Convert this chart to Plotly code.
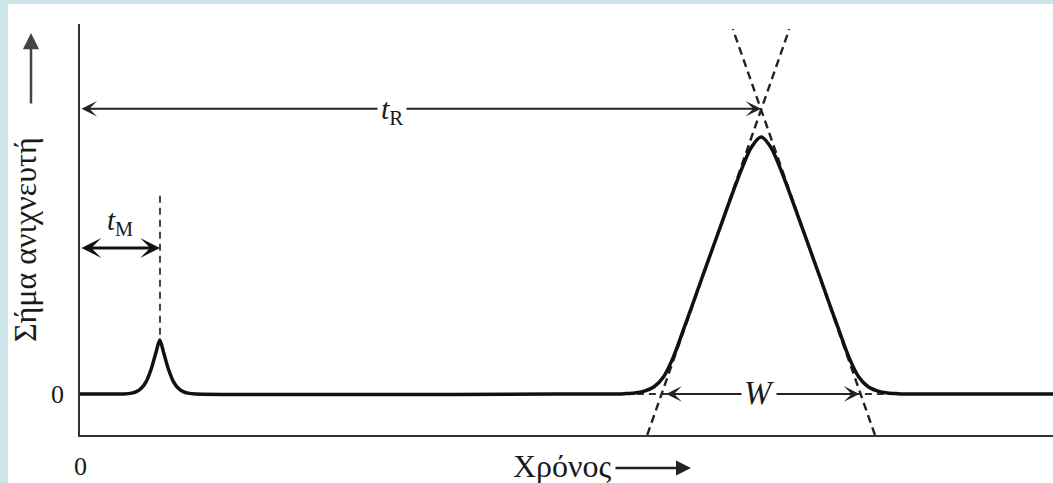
"""Chromatogram sketch: retention time t_R, dead time t_M and peak width W."""

import plotly.graph_objects as go

# detector signal (time in arbitrary units, peak height ~100)
time = [0, 4.5, 5.3, 5.8, 6.3, 6.8, 7.3, 7.8, 8.2, 8.6, 9.1, 9.6, 10.1, 10.6, 11.1, 11.9,
        54, 55, 56, 57, 58, 59, 60, 61, 62, 63, 64, 65, 66, 67, 68, 69, 70,
        71, 72, 73, 74, 75, 76, 77, 78, 79, 80, 81, 82, 83, 84, 85, 86, 100]
signal = [0, 0, 0.3, 0.9, 2.2, 4.8, 9.5, 16, 21, 16, 9.5, 4.8, 2.2, 0.9, 0.3, 0,
          0, 0, 0.1, 0.35, 1.1, 2.8, 6.8, 14.5, 24.8, 35.3, 46, 56.5, 67, 77.5, 87.5, 96, 100,
          96, 87.5, 77.5, 67, 56.5, 46, 35.3, 24.8, 14.5, 6.8, 2.8, 1.1, 0.35, 0.1, 0, 0, 0]

# tangents drawn through the inflection points of the main peak
tangent_left_x = [58.3, 72.9]
tangent_left_y = [-16, 142]
tangent_right_x = [81.7, 67.1]
tangent_right_y = [-16, 142]
baseline_ext_x = [56, 84]
baseline_ext_y = [0, 0]

t_m = 8.22
t_r = 70
w_start, w_end = 60.1, 80.1
tm_line_y = [23, 77.5]
tr_level = 111
tm_level = 56.8

x_range = [0, 100]
y_range = [-16, 144]

SERIF = "Liberation Serif, Times New Roman, DejaVu Serif, serif"
INK = "#1a1a1a"

fig = go.Figure()

fig.add_trace(go.Scatter(x=baseline_ext_x, y=baseline_ext_y, mode="lines",
                         line=dict(color="#333", width=2, dash="7px,5px")))
fig.add_trace(go.Scatter(x=tangent_left_x, y=tangent_left_y, mode="lines",
                         line=dict(color="#222", width=2.4, dash="8px,5px")))
fig.add_trace(go.Scatter(x=tangent_right_x, y=tangent_right_y, mode="lines",
                         line=dict(color="#222", width=2.4, dash="8px,5px")))
fig.add_trace(go.Scatter(x=[t_m, t_m], y=tm_line_y, mode="lines",
                         line=dict(color="#444", width=2, dash="7px,5px")))
fig.add_trace(go.Scatter(x=time, y=signal, mode="lines",
                         line=dict(color="#111", width=3.5, shape="spline", smoothing=0.8)))


def paper_x(px):
    return (px - 80) / 973


def paper_y(py):
    return (435 - py) / 411


def serif(size):
    return dict(family=SERIF, size=size, color=INK)


def label(x, y, text, size, ref="paper", **extra):
    # anchors fixed to the centre; "auto" shifts paper-placed labels
    yref = "y" if ref == "x" else ref
    return dict(xref=ref, yref=yref, x=x, y=y, text=text, showarrow=False,
                xanchor="center", yanchor="middle", font=serif(size), **extra)


annotations = [
    # axis labels and their arrows
    label(paper_x(25), paper_y(240), "Σήμα ανιχνευτή", 32, textangle=-90),
    dict(xref="paper", yref="paper", x=paper_x(31), y=paper_y(33), ax=0, ay=72, text="",
         showarrow=True, arrowhead=2, arrowsize=1.3, arrowwidth=2.5, arrowcolor="#444"),
    label(paper_x(562), paper_y(466), "Χρόνος", 32),
    dict(xref="paper", yref="paper", x=paper_x(691), y=paper_y(468), ax=-77, ay=0, text="",
         showarrow=True, arrowhead=2, arrowsize=1.2, arrowwidth=2.5, arrowcolor="#222"),
    label(paper_x(57), paper_y(394), "0", 26),
    label(paper_x(80), paper_y(466), "0", 26),
    # double arrows
    dict(xref="x", yref="y", axref="x", ayref="y", x=t_r, y=tr_level, ax=0, ay=tr_level,
         text="", showarrow=True, arrowside="end+start", arrowhead=3, arrowsize=1.3,
         arrowwidth=2, arrowcolor="#222"),
    dict(xref="x", yref="y", axref="x", ayref="y", x=t_m, y=tm_level, ax=0, ay=tm_level,
         text="", showarrow=True, arrowside="end+start", arrowhead=3, arrowsize=1.1,
         arrowwidth=3, arrowcolor="#111"),
    dict(xref="x", yref="y", axref="x", ayref="y", x=w_end, y=0, ax=w_start, ay=0,
         text="", showarrow=True, arrowside="end+start", arrowhead=3, arrowsize=1.3,
         arrowwidth=2, arrowcolor="#222"),
    # symbols
    label(32.1, tr_level - 1, "<i>t</i><sub>R</sub>", 30, ref="x",
          bgcolor="white", borderpad=3),
    label(4.1, 67, "<i>t</i><sub>M</sub>", 29, ref="x"),
    label(69.8, 0.5, "<i>W</i>", 33, ref="x", bgcolor="white", borderpad=2),
]

fig.update_layout(
    width=1053,
    height=483,
    margin=dict(l=80, r=0, t=24, b=48),
    paper_bgcolor="#cde6ea",
    plot_bgcolor="white",
    showlegend=False,
    font=dict(family=SERIF, color=INK),
    annotations=annotations,
    shapes=[dict(type="rect", xref="paper", yref="paper", layer="below",
                 x0=paper_x(8), x1=1.01, y0=paper_y(490), y1=paper_y(4),
                 fillcolor="white", line=dict(width=0))],
    xaxis=dict(range=x_range, showline=True, linecolor="#333", linewidth=2,
               showgrid=False, zeroline=False, ticks="", showticklabels=False),
    yaxis=dict(range=y_range, showline=True, linecolor="#333", linewidth=2,
               showgrid=False, zeroline=False, ticks="", showticklabels=False),
)

# the page body has a default 8px margin; drop it so the figure fills the window
fig.write_html("out.html", config={"displayModeBar": False},
               post_script="document.body.style.margin = '0';")
